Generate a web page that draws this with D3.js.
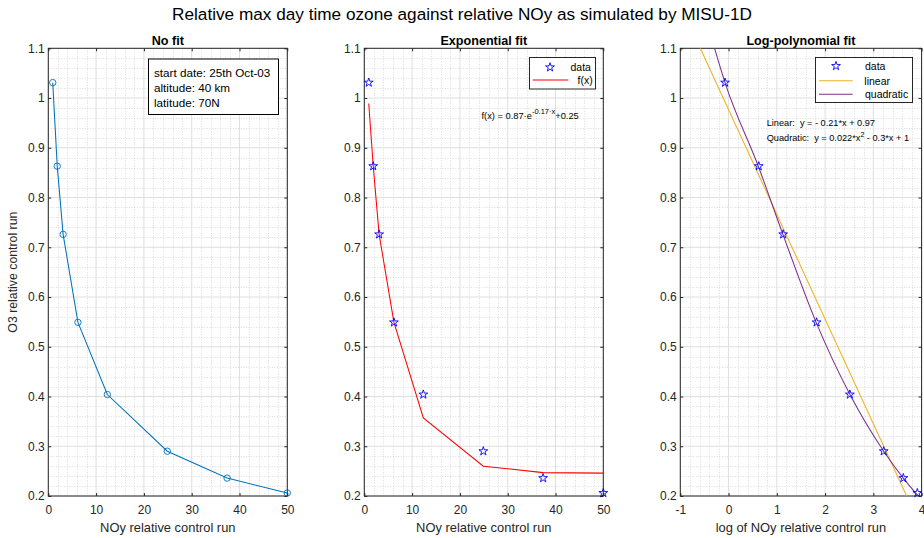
<!DOCTYPE html>
<html>
<head>
<meta charset="utf-8">
<script src="https://cdn.jsdelivr.net/npm/d3@7"></script>
<style>
  body { margin: 0; background: #fff; }
  svg { display: block; font-family: "Liberation Sans", Arial, Helvetica, sans-serif; }
</style>
</head>
<body>
<svg id="chart" width="924" height="538"></svg>
<script>
// ---------------- data ----------------
const noyRel = [0.93, 1.87, 3.1, 6.2, 12.35, 24.9, 37.4, 50];
const o3Rel  = [1.031, 0.863, 0.726, 0.549, 0.404, 0.29, 0.236, 0.206];
const expFitY = [0.989, 0.863, 0.726, 0.549, 0.357, 0.26, 0.247, 0.246];
const linFitX = [-0.586, 3.69];
const linFitY = [1.1, 0.2];
const quadFitX = [-0.29, -0.07, 0.62, 1.126, 1.815, 2.515, 3.215, 3.62, 3.93];
const quadFitY = [1.1, 1.03, 0.862, 0.726, 0.549, 0.404, 0.29, 0.236, 0.2];
const yTicks = [0.2, 0.3, 0.4, 0.5, 0.6, 0.7, 0.8, 0.9, 1, 1.1];
const xTicksLin = [0, 10, 20, 30, 40, 50];
const xTicksLog = [-1, 0, 1, 2, 3, 4];
const infoLines = ["start date: 25th Oct-03", "altitude: 40 km", "latitude: 70N"];
const mainTitle = "Relative max day time ozone against relative NOy as simulated by MISU-1D";

const svg = d3.select("#chart");
const TXT = "#262626";
const yTop = 48.3, yBot = 496;
const LW = 1.05;

svg.append("text").attr("x", 462).attr("y", 20).attr("text-anchor", "middle")
  .attr("font-size", 17.2).attr("fill", "#000").text(mainTitle);

function panel(opt) {
  const g = svg.append("g");
  const x = d3.scaleLinear().domain(opt.xDomain).range([opt.left, opt.right]);
  const y = d3.scaleLinear().domain([0.2, 1.1]).range([yBot, yTop]);
  const id = "clip" + opt.key;
  svg.append("clipPath").attr("id", id).append("rect")
    .attr("x", opt.left).attr("y", yTop).attr("width", opt.right - opt.left).attr("height", yBot - yTop);

  g.append("rect").attr("x", opt.left).attr("y", yTop).attr("width", opt.right - opt.left)
    .attr("height", yBot - yTop).attr("fill", "#fff");

  // minor grid
  const xMinor = d3.range(opt.xDomain[0], opt.xDomain[1] + 1e-9, opt.xMinor)
    .filter(v => Math.abs(v / opt.xMajor - Math.round(v / opt.xMajor)) > 1e-6);
  const yMinor = d3.range(0.2, 1.1 + 1e-9, 0.02)
    .filter(v => Math.abs(v / 0.1 - Math.round(v / 0.1)) > 1e-6);
  const mg = g.append("g").attr("stroke", "#c4c4c4").attr("stroke-width", 0.6)
    .attr("stroke-dasharray", "1,1.6");
  mg.selectAll(".xm").data(xMinor).join("line")
    .attr("x1", d => Math.round(x(d)) + 0.5).attr("x2", d => Math.round(x(d)) + 0.5)
    .attr("y1", yTop).attr("y2", yBot);
  mg.selectAll(".ym").data(yMinor).join("line")
    .attr("y1", d => Math.round(y(d)) + 0.5).attr("y2", d => Math.round(y(d)) + 0.5)
    .attr("x1", opt.left).attr("x2", opt.right);
  // major grid
  const Mg = g.append("g").attr("stroke", "#dfdfdf").attr("stroke-width", 1);
  Mg.selectAll(".xM").data(opt.xTicks).join("line")
    .attr("x1", d => x(d)).attr("x2", d => x(d)).attr("y1", yTop).attr("y2", yBot);
  Mg.selectAll(".yM").data(yTicks).join("line")
    .attr("y1", d => y(d)).attr("y2", d => y(d)).attr("x1", opt.left).attr("x2", opt.right);

  // axes with inward ticks on all sides
  const fmt = v => d3.format("~g")(v).replace("\u2212", "-");
  const tl = 3;
  const ax = (gen, tr) => {
    const a = g.append("g").attr("transform", tr).call(gen);
    a.select(".domain").remove();
    a.selectAll("line").attr("stroke", TXT);
    a.selectAll("text").attr("fill", TXT).attr("font-size", 12);
    return a;
  };
  ax(d3.axisBottom(x).tickValues(opt.xTicks).tickFormat(fmt).tickSizeInner(-tl).tickPadding(9.5), `translate(0,${yBot})`);
  ax(d3.axisTop(x).tickValues(opt.xTicks).tickFormat("").tickSizeInner(-tl), `translate(0,${yTop})`);
  ax(d3.axisLeft(y).tickValues(yTicks).tickFormat(fmt).tickSizeInner(-tl).tickPadding(3.5), `translate(${opt.left},0)`);
  ax(d3.axisRight(y).tickValues(yTicks).tickFormat("").tickSizeInner(-tl), `translate(${opt.right},0)`);
  g.append("rect").attr("x", opt.left).attr("y", yTop).attr("width", opt.right - opt.left)
    .attr("height", yBot - yTop).attr("fill", "none").attr("stroke", TXT).attr("stroke-width", 1);

  g.append("text").attr("x", (opt.left + opt.right) / 2).attr("y", yTop - 3.8)
    .attr("text-anchor", "middle").attr("font-weight", "bold").attr("font-size", 12.6)
    .attr("fill", "#000").text(opt.title);
  g.append("text").attr("x", (opt.left + opt.right) / 2).attr("y", 531.5)
    .attr("text-anchor", "middle").attr("font-size", 12.9).attr("fill", TXT).text(opt.xLabel);

  const plot = g.append("g").attr("clip-path", `url(#${id})`);
  return { g, plot, x, y };
}

const star = d3.symbol().type(d3.symbolStar).size(24);

// ---------- Panel 1 ----------
{
  const p = panel({ key: 1, left: 48.3, right: 287.3, xDomain: [0, 50], xTicks: xTicksLin,
    xMajor: 10, xMinor: 2, title: "No fit", xLabel: "NOy relative control run" });
  const pts = noyRel.map((v, i) => [v, o3Rel[i]]);
  p.g.append("path").datum(pts).attr("fill", "none").attr("stroke", "#0072BD").attr("stroke-width", LW)
    .attr("d", d3.line().x(d => p.x(d[0])).y(d => p.y(d[1])));
  p.g.selectAll(".c").data(pts).join("circle").attr("cx", d => p.x(d[0])).attr("cy", d => p.y(d[1]))
    .attr("r", 3.2).attr("fill", "none").attr("stroke", "#0072BD").attr("stroke-width", 0.9);
  svg.append("text").attr("transform", `translate(17,${(yTop + yBot) / 2}) rotate(-90)`)
    .attr("text-anchor", "middle").attr("font-size", 12.3).attr("fill", TXT).text("O3 relative control run");
  const bx = svg.append("g");
  bx.append("rect").attr("x", 148.5).attr("y", 59).attr("width", 130).attr("height", 55.5)
    .attr("fill", "#fff").attr("stroke", "#000").attr("stroke-width", 1);
  bx.selectAll("text").data(infoLines).join("text").attr("x", 154).attr("y", (d, i) => 76.8 + i * 15)
    .attr("font-size", 11.7).attr("fill", "#000").text(d => d);
}

// ---------- Panel 2 ----------
{
  const p = panel({ key: 2, left: 364.3, right: 603.3, xDomain: [0, 50], xTicks: xTicksLin,
    xMajor: 10, xMinor: 2, title: "Exponential fit", xLabel: "NOy relative control run" });
  const fit = noyRel.map((v, i) => [v, expFitY[i]]);
  p.plot.append("path").datum(fit).attr("fill", "none").attr("stroke", "#FF0000").attr("stroke-width", LW)
    .attr("d", d3.line().x(d => p.x(d[0])).y(d => p.y(d[1])));
  const pts = noyRel.map((v, i) => [v, o3Rel[i]]);
  p.g.selectAll(".s").data(pts).join("path").attr("d", star)
    .attr("transform", d => `translate(${p.x(d[0])},${p.y(d[1])})`)
    .attr("fill", "none").attr("stroke", "#0000FF").attr("stroke-width", 0.9);
  // legend
  const lg = svg.append("g");
  lg.append("rect").attr("x", 529.5).attr("y", 57.5).attr("width", 66).attr("height", 31.5)
    .attr("fill", "#fff").attr("stroke", "#262626").attr("stroke-width", 1);
  lg.append("path").attr("d", star).attr("transform", "translate(550,67.3)")
    .attr("fill", "none").attr("stroke", "#0000FF").attr("stroke-width", 0.9);
  lg.append("line").attr("x1", 532.7).attr("x2", 568.3).attr("y1", 80).attr("y2", 80)
    .attr("stroke", "#FF0000").attr("stroke-width", LW);
  lg.append("text").attr("x", 570.5).attr("y", 71).attr("font-size", 10.5).attr("fill", "#000").text("data");
  lg.append("text").attr("x", 577.5).attr("y", 84).attr("font-size", 10.5).attr("fill", "#000").text("f(x)");
  // annotation
  const t = svg.append("text").attr("x", 481.5).attr("y", 118.5).attr("font-size", 9.3).attr("fill", "#000");
  t.append("tspan").text("f(x) = 0.87\u00B7e");
  t.append("tspan").attr("dy", -4.8).attr("font-size", 7.5).text("-0.17\u00B7x");
  t.append("tspan").attr("dy", 4.8).text("+0.25");
}

// ---------- Panel 3 ----------
{
  const p = panel({ key: 3, left: 680.3, right: 921.6, xDomain: [-1, 4], xTicks: xTicksLog,
    xMajor: 1, xMinor: 0.2, title: "Log-polynomial fit", xLabel: "log of NOy relative control run" });
  const lin = linFitX.map((v, i) => [v, linFitY[i]]);
  p.plot.append("path").datum(lin).attr("fill", "none").attr("stroke", "#EDB120").attr("stroke-width", LW)
    .attr("d", d3.line().x(d => p.x(d[0])).y(d => p.y(d[1])));
  const quad = quadFitX.map((v, i) => [v, quadFitY[i]]);
  p.plot.append("path").datum(quad).attr("fill", "none").attr("stroke", "#7E2F8E").attr("stroke-width", LW)
    .attr("d", d3.line().curve(d3.curveMonotoneX).x(d => p.x(d[0])).y(d => p.y(d[1])));
  const pts = noyRel.map((v, i) => [Math.log(v), o3Rel[i]]);
  p.g.selectAll(".s").data(pts).join("path").attr("d", star)
    .attr("transform", d => `translate(${p.x(d[0])},${p.y(d[1])})`)
    .attr("fill", "none").attr("stroke", "#0000FF").attr("stroke-width", 0.9);
  const lg = svg.append("g");
  lg.append("rect").attr("x", 815.5).attr("y", 57.5).attr("width", 97).attr("height", 45)
    .attr("fill", "#fff").attr("stroke", "#262626").attr("stroke-width", 1);
  lg.append("path").attr("d", star).attr("transform", "translate(836,66)")
    .attr("fill", "none").attr("stroke", "#0000FF").attr("stroke-width", 0.9);
  lg.append("line").attr("x1", 819).attr("x2", 852.7).attr("y1", 80.7).attr("y2", 80.7)
    .attr("stroke", "#EDB120").attr("stroke-width", LW);
  lg.append("line").attr("x1", 819).attr("x2", 852.7).attr("y1", 94.3).attr("y2", 94.3)
    .attr("stroke", "#7E2F8E").attr("stroke-width", LW);
  lg.append("text").attr("x", 865).attr("y", 70).attr("font-size", 10.5).attr("fill", "#000").text("data");
  lg.append("text").attr("x", 864.3).attr("y", 84.5).attr("font-size", 10.5).attr("fill", "#000").text("linear");
  lg.append("text").attr("x", 865).attr("y", 98).attr("font-size", 10.5).attr("fill", "#000").text("quadratic");
  svg.append("text").attr("x", 766.7).attr("y", 126).attr("font-size", 9.2).attr("fill", "#000")
    .style("white-space", "pre").text("Linear:  y = - 0.21*x + 0.97");
  const q = svg.append("text").attr("x", 766.7).attr("y", 140.8).attr("font-size", 9.2).attr("fill", "#000")
    .style("white-space", "pre");
  q.append("tspan").text("Quadratic:  y = 0.022*x");
  q.append("tspan").attr("dy", -4.3).attr("font-size", 7).text("2");
  q.append("tspan").attr("dy", 4.3).text(" - 0.3*x + 1");
}
</script>
</body>
</html>
